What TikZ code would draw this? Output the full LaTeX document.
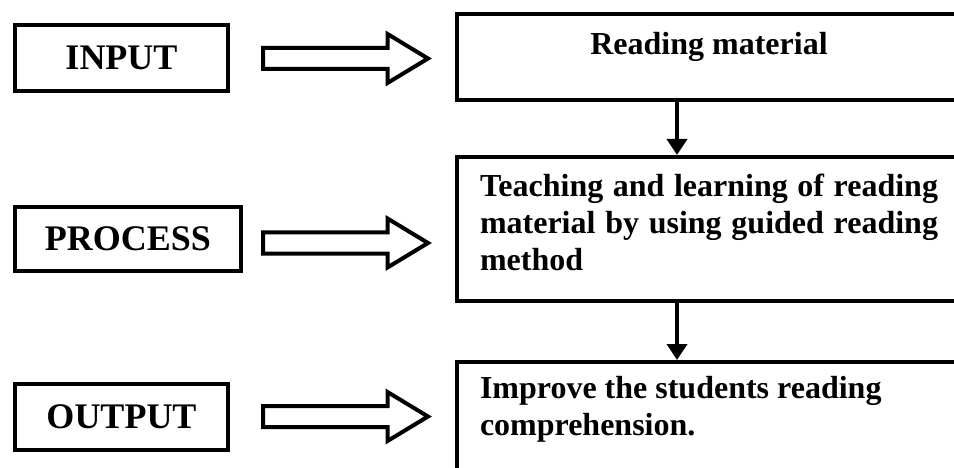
\documentclass[tikz,border=0pt]{standalone}
\usepackage{fontspec}
\setmainfont{Liberation Serif}
\usetikzlibrary{arrows.meta,calc}
\tikzset{
  lbox/.style={draw,line width=4.5pt,outer sep=0pt,inner sep=0pt,
    font=\fontsize{36}{42}\selectfont\bfseries,minimum width=213pt,minimum height=66pt},
  rbox/.style={draw,line width=4.5pt,outer sep=0pt,inner xsep=23pt,anchor=north west,
    font=\fontsize{32}{37}\selectfont\bfseries},
  downarrow/.style={line width=4.5pt,shorten >=2pt,-{Triangle[width=20pt,length=16pt]}},
  hollowarrow/.pic={\draw[line width=4pt,miter limit=10]
    (0,-10.5) -- (124.5,-10.5) -- (124.5,-24.5) -- (165,0) -- (124.5,24.5) -- (124.5,10.5) -- (0,10.5) -- cycle;}
}
\begin{document}
\begin{tikzpicture}[x=1pt,y=-1pt]
\useasboundingbox (0,0) rectangle (954,468);
\clip (0,0) rectangle (954,468);
% left boxes
\node[lbox] (in) at (121.5,58) {INPUT};
\node[lbox,minimum width=226pt,minimum height=64pt] (pr) at (128,239) {PROCESS};
\node[lbox] (out) at (121.5,417) {OUTPUT};
% right boxes
\node[rbox,inner ysep=18pt] (rm) at (457,14)
  {\parbox[c][50pt][t]{458pt}{\centering Reading material}};
\node[rbox,inner ysep=17pt] (tl) at (457,157)
  {\parbox[c][110pt][t]{458pt}{\hyphenpenalty=10000 Teaching and learning of reading material by using guided reading method}};
\node[rbox,inner ysep=14pt] (im) at (457,362)
  {\parbox[c][150pt][t]{458pt}{\raggedright\hyphenpenalty=10000 Improve the students reading comprehension.}};
% hollow arrows
\pic at (263,58.5) {hollowarrow};
\pic at (263,243) {hollowarrow};
\pic at (263,416.5) {hollowarrow};
% down arrows
\coordinate (ax) at (677,0);
\draw[downarrow] (rm.south -| ax) -- (tl.north -| ax);
\draw[downarrow] (tl.south -| ax) -- (im.north -| ax);
\end{tikzpicture}
\end{document}
